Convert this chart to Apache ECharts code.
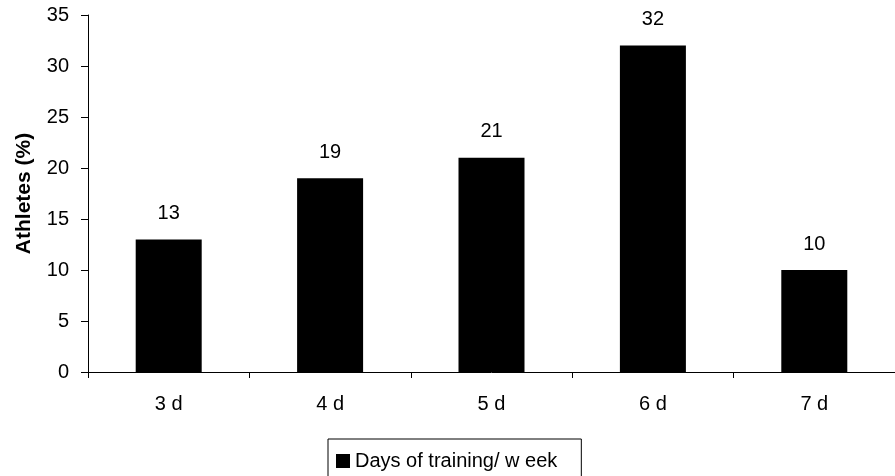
<!DOCTYPE html>
<html>
<head>
<meta charset="utf-8">
<script src="https://cdn.jsdelivr.net/npm/echarts@6/dist/echarts.min.js"></script>
<style>
html,body{margin:0;padding:0;background:#fff;}
#chart{width:895px;height:476px;}
</style>
</head>
<body>
<div id="chart"></div>
<script>
const categories = ["3 d", "4 d", "5 d", "6 d", "7 d"];
const values = [13, 19, 21, 32, 10];
const seriesName = "Days of training/ w eek";
const yAxisTitle = "Athletes (%)";

const font = "Liberation Sans, Arial, sans-serif";
const chart = echarts.init(document.getElementById('chart'), null, {renderer: 'canvas'});
chart.setOption({
  animation: false,
  backgroundColor: '#fff',
  grid: {left: 88, top: 15, height: 357, width: 817, containLabel: false},
  legend: {
    data: [seriesName],
    left: 328,
    top: 439,
    orient: 'horizontal',
    icon: 'rect',
    itemWidth: 14,
    itemHeight: 14,
    itemGap: 6,
    padding: [12, 24, 30, 8],
    borderColor: '#000',
    borderWidth: 1,
    textStyle: {fontFamily: font, fontSize: 20, color: '#000'}
  },
  xAxis: {
    type: 'category',
    data: categories,
    boundaryGap: true,
    axisLine: {lineStyle: {color: '#000', width: 1}},
    axisTick: {show: true, length: 6, lineStyle: {color: '#000'}},
    axisLabel: {color: '#000', fontFamily: font, fontSize: 20, margin: 22}
  },
  yAxis: {
    type: 'value',
    min: 0, max: 35, interval: 5,
    name: yAxisTitle,
    nameLocation: 'middle',
    nameGap: 53,
    nameRotate: 90,
    nameTextStyle: {fontFamily: font, fontSize: 21, fontWeight: 'bold', color: '#000'},
    axisLine: {show: true, lineStyle: {color: '#000', width: 1}},
    axisTick: {show: true, inside: false, length: 7, lineStyle: {color: '#000'}},
    splitLine: {show: false},
    axisLabel: {color: '#000', fontFamily: font, fontSize: 20, margin: 19}
  },
  series: [{
    name: seriesName,
    type: 'bar',
    data: values,
    barWidth: 66,
    itemStyle: {color: '#000'},
    label: {show: true, position: 'top', distance: 16, color: '#000', fontFamily: font, fontSize: 20}
  }]
});
</script>
</body>
</html>
